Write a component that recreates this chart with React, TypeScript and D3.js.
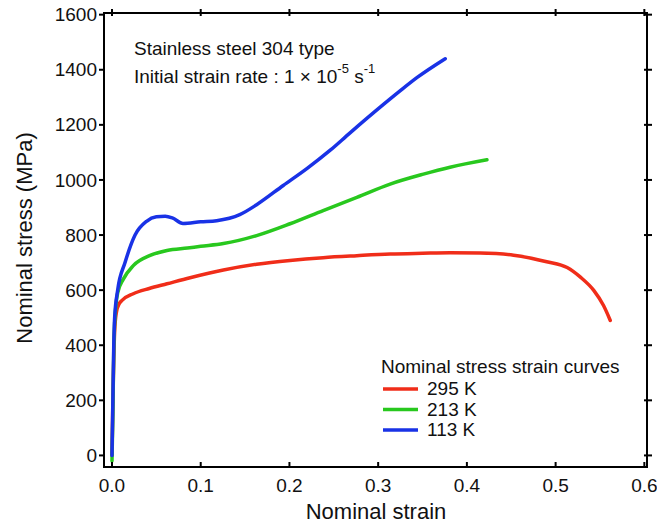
import * as d3 from "d3";

// strain, stress (MPa)
const red295: [number, number][] = [
  [0, 0], [0.001, 200], [0.002, 350], [0.003, 450], [0.005, 520], [0.008, 550], [0.011, 562],
  [0.024, 587], [0.042, 606], [0.062, 623], [0.088, 645], [0.1256, 673], [0.163, 694],
  [0.2007, 708], [0.238, 718], [0.276, 725], [0.3135, 731], [0.35, 734], [0.381, 736],
  [0.415, 735], [0.4526, 727], [0.49, 703], [0.513, 682], [0.528, 647],
  [0.543, 599], [0.554, 544], [0.5616, 490],
];

const green213: [number, number][] = [
  [0, -20], [0.001, 150], [0.002, 380], [0.003, 480], [0.0064, 590], [0.0128, 640],
  [0.024, 689], [0.043, 726], [0.062, 744], [0.085, 753], [0.1, 759], [0.1256, 769],
  [0.163, 798], [0.2007, 841], [0.238, 889], [0.276, 937], [0.3135, 985], [0.351, 1021],
  [0.381, 1046], [0.4226, 1073],
];

const blue113: [number, number][] = [
  [0, 0], [0.001, 200], [0.002, 400], [0.003, 500], [0.0064, 600], [0.0147, 700],
  [0.026, 800], [0.039, 850], [0.05, 866], [0.06, 868], [0.068, 862], [0.08, 842],
  [0.1, 848], [0.118, 852], [0.144, 874], [0.163, 910], [0.193, 980], [0.22, 1042],
  [0.246, 1108], [0.268, 1170], [0.306, 1274], [0.325, 1324], [0.344, 1372], [0.3756, 1440],
];

const xTicks = [0, 0.1, 0.2, 0.3, 0.4, 0.5, 0.6];
const yTicks = [0, 200, 400, 600, 800, 1000, 1200, 1400, 1600];

const seriesNames = ["295 K", "213 K", "113 K"];
const seriesColors = ["#f02d19", "#28c81e", "#1932e6"];
const seriesData = [red295, green213, blue113];

const W = 657;
const H = 527;
const left = 104, right = 647, top = 13, bottom = 467;
const font = "'Liberation Sans', Arial, sans-serif";

export default function App() {
  const x = d3.scaleLinear().domain([-0.009, 0.603]).range([left, right]);
  const y = d3.scaleLinear().domain([-42, 1606]).range([bottom, top]);

  const line = d3
    .line<[number, number]>()
    .x((d) => x(d[0]))
    .y((d) => y(d[1]))
    .curve(d3.curveMonotoneX);

  return (
    <svg
      width={W}
      height={H}
      style={{ position: "absolute", left: 0, top: 0, background: "#fff" }}
      fontFamily={font}
    >
      {seriesData.map((s, i) => (
        <path key={i} d={line(s) || ""} fill="none" stroke={seriesColors[i]} strokeWidth={3.5} strokeLinejoin="round" strokeLinecap="round" />
      ))}

      <rect x={left} y={top} width={right - left} height={bottom - top} fill="none" stroke="#000" strokeWidth={2} />

      {xTicks.map((t) => (
        <g key={"x" + t}>
          <line x1={x(t)} x2={x(t)} y1={bottom} y2={bottom - 5} stroke="#000" strokeWidth={2} />
          <line x1={x(t)} x2={x(t)} y1={top - 4} y2={top + 3} stroke="#000" strokeWidth={2} />
          <text x={x(t)} y={492} textAnchor="middle" fontSize={19} fill="#111">
            {t.toFixed(1)}
          </text>
        </g>
      ))}

      {yTicks.map((t) => (
        <g key={"y" + t}>
          <line x1={left - 5} x2={left} y1={y(t)} y2={y(t)} stroke="#000" strokeWidth={2} />
          <line x1={right - 3} x2={right + 5} y1={y(t)} y2={y(t)} stroke="#000" strokeWidth={2} />
          <text x={97} y={y(t)} dy="0.35em" textAnchor="end" fontSize={19} fill="#111">
            {t}
          </text>
        </g>
      ))}

      <text x={376} y={519} textAnchor="middle" fontSize={22} fill="#111">
        Nominal strain
      </text>
      <text transform={`translate(32,${(top + bottom) / 2 - 2}) rotate(-90)`} textAnchor="middle" fontSize={22} fill="#111">
        Nominal stress (MPa)
      </text>

      <text x={134} y={55} fontSize={19} fill="#111">
        Stainless steel 304 type
      </text>
      <text x={134} y={83} fontSize={19} fill="#111">
        Initial strain rate : 1 × 10
        <tspan fontSize={13} dy={-10}>-5</tspan>
        <tspan fontSize={19} dy={10}> s</tspan>
        <tspan fontSize={13} dy={-10}>-1</tspan>
      </text>

      <text x={381} y={373} fontSize={19} fill="#111">
        Nominal stress strain curves
      </text>
      {seriesNames.map((n, i) => (
        <g key={n}>
          <line x1={383} x2={418} y1={389 + i * 20.5} y2={389 + i * 20.5} stroke={seriesColors[i]} strokeWidth={3.5} />
          <text x={427} y={395 + i * 20.5} fontSize={19} fill="#111">
            {n}
          </text>
        </g>
      ))}
    </svg>
  );
}
